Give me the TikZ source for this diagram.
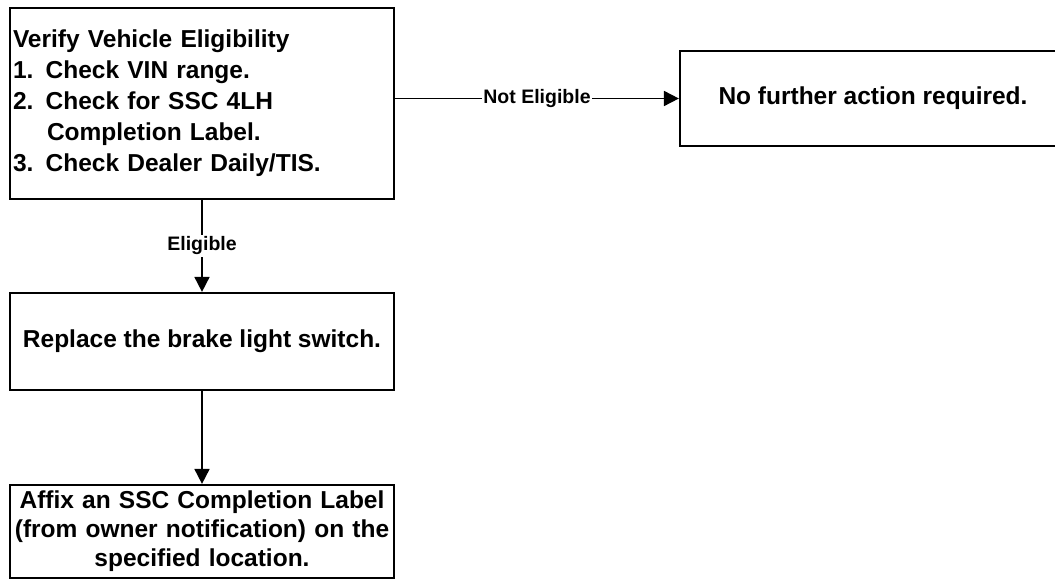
\documentclass[tikz,border=0pt]{standalone}
\usepackage{fontspec}
\setmainfont{Liberation Sans}
\usetikzlibrary{arrows.meta}
\begin{document}
\begin{tikzpicture}[x=1pt,y=-1pt,
  box/.style={draw, line width=2.2pt, inner sep=0pt, font=\fontsize{24.5}{31}\selectfont\bfseries},
  lbl/.style={fill=white, inner sep=1.5pt, font=\fontsize{19.5}{22}\selectfont\bfseries},
  arr/.style={line width=1.8pt, -{Triangle[length=15pt,width=15pt]}}]
\useasboundingbox (0,0) rectangle (1055,580);
\node[box, minimum width=384pt, minimum height=191pt, text width=378pt, align=left] (verify) at (202,103.5)
  {Verify Vehicle Eligibility\\
   1. Check VIN range.\\
   2. Check for SSC 4LH\\
   \hspace*{34pt}Completion Label.\\
   3. Check Dealer Daily/TIS.};
\node[box, minimum width=386pt, minimum height=95pt] (noact) at (873,98.5) {No further action required.};
\node[box, minimum width=384pt, minimum height=97pt] (replace) at (202,341.5) {Replace the brake light switch.};
\node[box, minimum width=384pt, minimum height=93pt, text width=378pt, align=center,
      font=\fontsize{24.5}{29}\selectfont\bfseries] (affix) at (202,531.5)
  {Affix an SSC Completion Label\\
   (from owner notification) on the\\
   specified location.};
\draw[arr] (noact.west -| verify.east) -- node[lbl] {Not Eligible} (noact.west);
\draw[arr] (verify.south) -- node[lbl] {Eligible} (replace.north);
\draw[arr] (replace.south) -- (affix.north);
\end{tikzpicture}
\end{document}
